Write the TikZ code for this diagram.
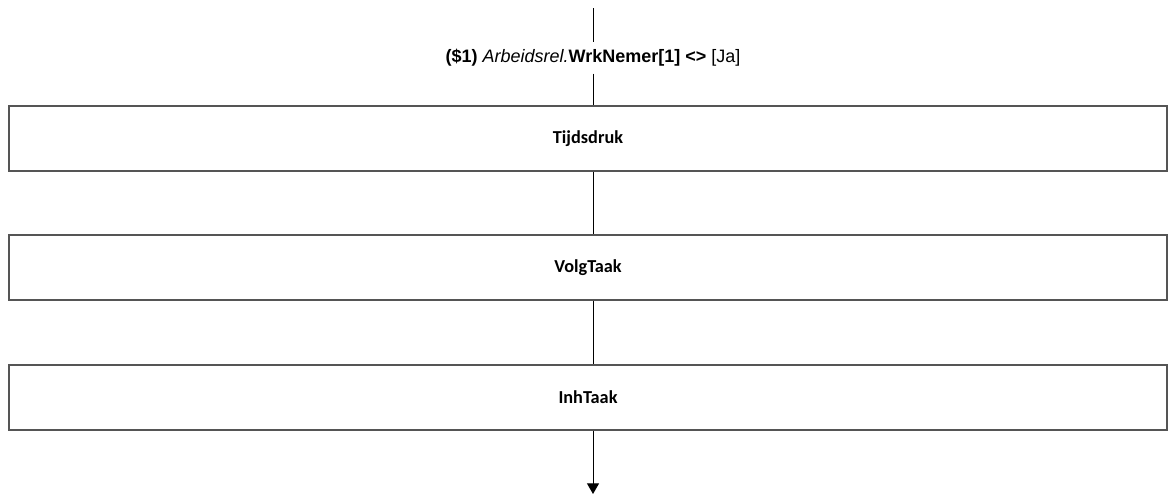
\documentclass[tikz,border=0pt]{standalone}
\usepackage{fontspec}
\setmainfont{Liberation Sans}
\newfontfamily\calibri{Carlito}
\usetikzlibrary{arrows.meta,positioning}

\begin{document}
\begin{tikzpicture}[x=0.75pt, y=-0.75pt,
  qbox/.style={draw={rgb,255:red,85;green,85;blue,85}, line width=1pt, minimum width=868.5pt, minimum height=48.75pt, inner sep=0pt, font=\calibri\bfseries\fontsize{13.7}{15}\selectfont},
  cond/.style={inner sep=0pt, minimum height=23pt, font=\fontsize{13.5}{15}\selectfont},
  conn/.style={line width=0.75pt},
  arr/.style={conn, -{Triangle[width=9pt, length=8pt]}}
]
\useasboundingbox (0,0) rectangle (1176,496);
% entry line and condition
\coordinate (top) at (593,8);
\node[cond] (c1) at (593,58) {\textbf{(\$1)} \textit{Arbeidsrel.}\textbf{WrkNemer[1] <>} [Ja]};

% questions
\node[qbox] (tijd) at (588,138.5) {Tijdsdruk};
\node[qbox] (volg) at (588,267.5) {VolgTaak};
\node[qbox] (inh)  at (588,397.5) {InhTaak};
\coordinate (end) at (593,494);

\draw[conn] (top) -- (c1.north);
\draw[conn] (c1.south) -- (c1 |- tijd.north);
\draw[conn] (tijd.south -| top) -- (volg.north -| top);
\draw[conn] (volg.south -| top) -- (inh.north -| top);
\draw[arr] (inh.south -| top) -- (end);
\end{tikzpicture}
\end{document}
